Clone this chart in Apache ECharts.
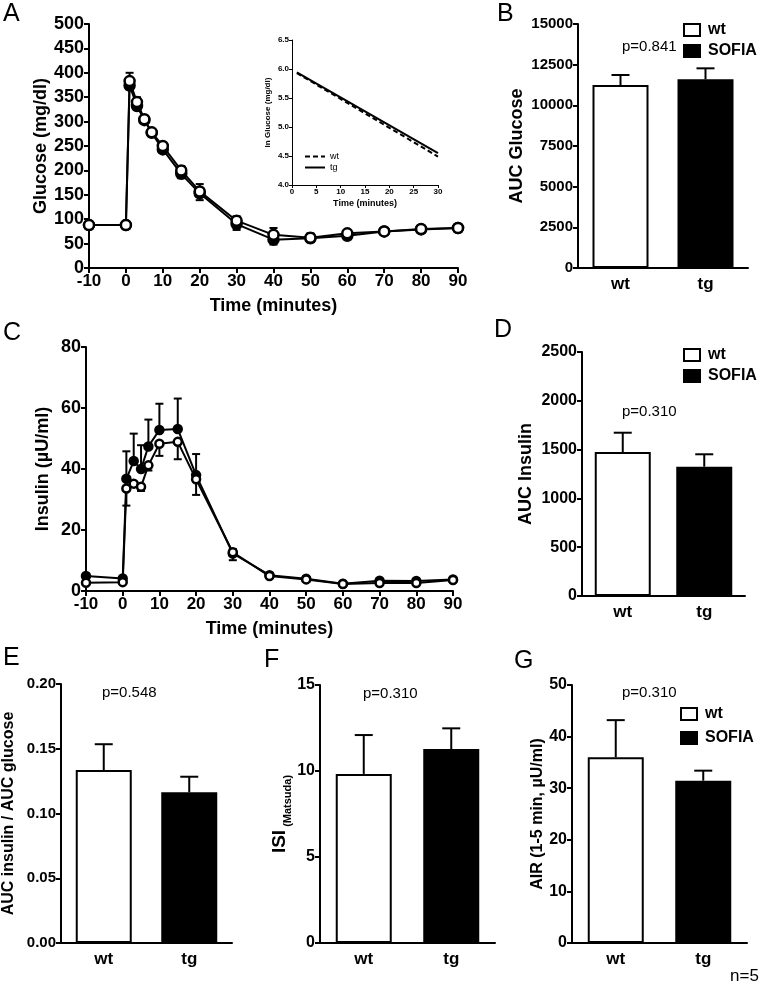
<!DOCTYPE html>
<html>
<head>
<meta charset="utf-8">
<script src="https://cdn.jsdelivr.net/npm/echarts@6.0.0/dist/echarts.min.js"></script>
</head>
<body style="margin:0;background:#fff">
<div id="container" style="width:762px;height:989px;"></div>
<script>
// time course (minutes)
var timePoints = [-10, 0, 1, 3, 5, 7, 10, 15, 20, 30, 40, 50, 60, 70, 80, 90];
var glucoseWt = [88, 88, 383, 340, 305, 278, 250, 200, 157, 97, 68, 62, 71, 75, 80, 82];
var glucoseWtErr = [2, 2, 17, 10, 4, 4, 5, 9, 15, 9, 14, 9, 3, 3, 3, 2];
var glucoseTg = [88, 88, 374, 332, 303, 277, 243, 193, 153, 90, 58, 61, 66, 75, 79, 82];
var glucoseTgErr = [2, 2, 8, 8, 4, 4, 7, 9, 14, 12, 10, 8, 3, 3, 3, 2];
var insulinWt = [2.7, 2.9, 33.6, 35.2, 34.2, 41.2, 48.3, 48.9, 36.6, 12.7, 4.9, 3.8, 2.3, 2.6, 2.6, 3.6];
var insulinWtErr = [0.5, 0.5, 5.6, 1.0, 1.4, 1.7, 4.0, 5.7, 5.1, 2.6, 0.5, 0.4, 0.3, 0.3, 0.3, 0.3];
var insulinTg = [4.9, 4.1, 36.8, 42.6, 40.0, 47.4, 52.8, 53.1, 38.0, 12.3, 5.2, 4.0, 2.4, 3.4, 3.3, 3.8];
var insulinTgErr = [0.7, 0.4, 9.0, 9.0, 7.8, 8.8, 8.6, 10.0, 6.9, 1.5, 0.5, 0.3, 0.2, 0.3, 0.3, 0.3];

// inset: ln glucose fit
var lnTime = [1, 30];
var lnWt = [5.93, 4.49];
var lnTg = [5.94, 4.55];

// bar panels
var groups = ['wt', 'tg'];
var aucGlucose = [11250, 11600], aucGlucoseErr = [615, 675];
var aucInsulin = [1475, 1325], aucInsulinErr = [198, 127];
var aucRatio = [0.1336, 0.1164], aucRatioErr = [0.0199, 0.012];
var isiMatsuda = [9.83, 11.28], isiMatsudaErr = [2.26, 1.2];
var airInsulin = [35.99, 31.45], airInsulinErr = [7.2, 1.95];

var font = 'Liberation Sans, Arial, sans-serif';
var dom = document.getElementById('container');
var myChart = echarts.init(dom);

function merge(a, b) {
  var o = {};
  for (var k in a) o[k] = a[k];
  for (var k2 in b) o[k2] = b[k2];
  return o;
}

function axisBase(gi, labelSize) {
  return {
    gridIndex: gi,
    axisLine: { show: true, onZero: false, lineStyle: { color: '#000', width: 2 } },
    axisTick: { show: true, inside: false, length: 5, lineStyle: { color: '#000', width: 2 } },
    splitLine: { show: false },
    axisLabel: { color: '#000', fontWeight: 'bold', fontFamily: font, fontSize: labelSize || 16, margin: 5,
      formatter: function (v) { return String(v); } },
    nameTextStyle: { color: '#000', fontWeight: 'bold', fontFamily: font, fontSize: 18 }
  };
}

function valueY(gi, min, max, interval, name, gap, labelSize, decimals, nameSize) {
  var ax = merge(axisBase(gi, labelSize), {
    type: 'value', min: min, max: max, interval: interval,
    name: name, nameLocation: 'middle', nameRotate: 90, nameGap: gap
  });
  if (decimals) ax.axisLabel.formatter = function (v) { return v.toFixed(decimals); };
  if (nameSize) ax.nameTextStyle.fontSize = nameSize;
  return ax;
}

function catX(gi) {
  var ax = merge(axisBase(gi, 17), { type: 'category', data: groups, boundaryGap: true });
  ax.axisTick = { show: false };
  ax.axisLabel.margin = 8;
  return ax;
}

function errRender(capHalf) {
  return function (params, api) {
    var x = api.value(0), y = api.value(1), e = api.value(2), d = api.value(3);
    var p0 = api.coord([x, y]);
    var p1 = api.coord([x, y + d * e]);
    var st = { stroke: '#000', lineWidth: 2 };
    return {
      type: 'group',
      children: [
        { type: 'line', shape: { x1: p0[0], y1: p0[1], x2: p1[0], y2: p1[1] }, style: st },
        { type: 'line', shape: { x1: p1[0] - capHalf, y1: p1[1], x2: p1[0] + capHalf, y2: p1[1] }, style: st }
      ]
    };
  };
}

function errSeries(gi, xs, ys, errs, dir, capHalf) {
  var data = [];
  for (var i = 0; i < ys.length; i++) data.push([xs[i], ys[i], errs[i], dir]);
  return {
    type: 'custom', xAxisIndex: gi, yAxisIndex: gi, z: 1,
    renderItem: errRender(capHalf), encode: { x: 0, y: 1 }, data: data, silent: true
  };
}

function pairs(xs, ys) {
  var out = [];
  for (var i = 0; i < xs.length; i++) out.push([xs[i], ys[i]]);
  return out;
}

function lineSeries(gi, name, xs, ys, open, size) {
  return {
    type: 'line', name: name, xAxisIndex: gi, yAxisIndex: gi, z: open ? 4 : 3,
    data: pairs(xs, ys), symbol: 'circle', symbolSize: size,
    lineStyle: { color: '#000', width: 2 },
    itemStyle: { color: open ? '#fff' : '#000', borderColor: '#000', borderWidth: 2.5 }
  };
}

function barSeries(gi, vals, errs) {
  return [
    { type: 'bar', name: 'wt', xAxisIndex: gi, yAxisIndex: gi, barWidth: 56, barGap: '-100%',
      data: [vals[0], '-'], itemStyle: { color: '#fff', borderColor: '#000', borderWidth: 2 }, z: 2 },
    { type: 'bar', name: 'SOFIA', xAxisIndex: gi, yAxisIndex: gi, barWidth: 56, barGap: '-100%',
      data: ['-', vals[1]], itemStyle: { color: '#000', borderColor: '#000', borderWidth: 2 }, z: 2 },
    merge(errSeries(gi, [0, 1], vals, errs, 1, 9), { z: 3 })
  ];
}

function barLegend(left, top, gap) {
  return {
    left: left, top: top, orient: 'vertical', padding: 0, itemGap: gap,
    itemWidth: 16, itemHeight: 12, icon: 'rect', selectedMode: false,
    data: ['wt', 'SOFIA'],
    textStyle: { color: '#000', fontWeight: 'bold', fontFamily: font, fontSize: 16, padding: [0, 0, 0, 3] }
  };
}

function letter(t, left, top) {
  return { text: t, left: left, top: top, padding: 0,
    textStyle: { fontFamily: font, fontWeight: 'normal', fontSize: 25, color: '#000' } };
}

function ptext(t, left, top, size) {
  return { type: 'text', left: left, top: top,
    style: { text: t, font: (size || 15) + 'px ' + font, fill: '#000' } };
}

var timeX = function (gi) {
  return merge(axisBase(gi, 17), {
    type: 'value', min: -10, max: 90, interval: 10,
    name: 'Time (minutes)', nameLocation: 'middle', nameGap: 29
  });
};

var insetX = merge(axisBase(1, 8), { type: 'value', min: 0, max: 30, interval: 5,
  name: 'Time (minutes)', nameLocation: 'middle', nameGap: 14 });
insetX.axisLabel.margin = 3;
insetX.axisTick.length = 3;
insetX.axisTick.lineStyle.width = 1;
insetX.axisLine.lineStyle.width = 1;
insetX.nameTextStyle.fontSize = 9;
var insetY = valueY(1, 4, 6.5, 0.5, 'ln Glucose (mg/dl)', 20, 8, 1, 8);
insetY.axisLabel.margin = 3;
insetY.axisTick.length = 3;
insetY.axisTick.lineStyle.width = 1;
insetY.axisLine.lineStyle.width = 1;

var isiY = valueY(6, 0, 15, 5, '{a|ISI}{b|(Matsuda)}', 26, 16);
isiY.nameTextStyle.rich = {
  a: { fontFamily: font, fontWeight: 'bold', fontSize: 19, color: '#000', lineHeight: 22, verticalAlign: 'bottom' },
  b: { fontFamily: font, fontWeight: 'bold', fontSize: 11, color: '#000', lineHeight: 22, verticalAlign: 'bottom', padding: [0, 0, -4, 3] }
};

var series = [];
series.push(errSeries(0, timePoints, glucoseTg, glucoseTgErr, -1, 4));
series.push(errSeries(0, timePoints, glucoseWt, glucoseWtErr, 1, 4));
series.push(lineSeries(0, 'glucose tg', timePoints, glucoseTg, false, 10));
series.push(lineSeries(0, 'glucose wt', timePoints, glucoseWt, true, 10));
series.push({ type: 'line', name: 'ln wt', xAxisIndex: 1, yAxisIndex: 1, data: pairs(lnTime, lnWt),
  symbol: 'none', lineStyle: { color: '#000', width: 2, type: [5, 3] } });
series.push({ type: 'line', name: 'ln tg', xAxisIndex: 1, yAxisIndex: 1, data: pairs(lnTime, lnTg),
  symbol: 'none', lineStyle: { color: '#000', width: 2 } });
series = series.concat(barSeries(2, aucGlucose, aucGlucoseErr));
series.push(errSeries(3, timePoints, insulinTg, insulinTgErr, 1, 4));
series.push(errSeries(3, timePoints, insulinWt, insulinWtErr, -1, 4));
series.push(lineSeries(3, 'insulin wt', timePoints, insulinWt, true, 8));
series.push(lineSeries(3, 'insulin tg', timePoints, insulinTg, false, 8));
series = series.concat(barSeries(4, aucInsulin, aucInsulinErr));
series = series.concat(barSeries(5, aucRatio, aucRatioErr));
series = series.concat(barSeries(6, isiMatsuda, isiMatsudaErr));
series = series.concat(barSeries(7, airInsulin, airInsulinErr));

var option = {
  animation: false,
  backgroundColor: '#fff',
  title: [
    letter('A', 3, 2), letter('B', 497, 2), letter('C', 3, 321), letter('D', 494, 318),
    letter('E', 3, 646), letter('F', 264, 648), letter('G', 514, 649)
  ],
  grid: [
    { left: 89, top: 24, width: 369, height: 244 },
    { left: 292, top: 40, width: 146, height: 145 },
    { left: 578, top: 24, width: 170, height: 244 },
    { left: 86, top: 347, width: 367, height: 244 },
    { left: 582, top: 352, width: 163, height: 244 },
    { left: 60, top: 684, width: 172, height: 259 },
    { left: 320, top: 685, width: 175, height: 258 },
    { left: 572, top: 685, width: 175, height: 258 }
  ],
  xAxis: [timeX(0), insetX, catX(2), timeX(3), catX(4), catX(5), catX(6), catX(7)],
  yAxis: [
    valueY(0, 0, 500, 50, 'Glucose (mg/dl)', 39, 18),
    insetY,
    valueY(2, 0, 15000, 2500, 'AUC Glucose', 52, 15),
    valueY(3, 0, 80, 20, 'Insulin (\u00b5U/ml)', 34, 18),
    valueY(4, 0, 2500, 500, 'AUC Insulin', 47, 16),
    valueY(5, 0, 0.2, 0.05, 'AUC insulin / AUC glucose', 44, 15, 2, 16),
    isiY,
    valueY(7, 0, 50, 10, 'AIR (1-5 min, \u00b5U/ml)', 25, 16, 0, 16)
  ],
  legend: [
    barLegend(683, 22, 5),
    barLegend(683, 347, 5),
    barLegend(680, 706, 8),
    { left: 304, top: 152, orient: 'vertical', padding: 0, itemGap: 2, itemWidth: 20, itemHeight: 10,
      selectedMode: false, data: ['ln wt', 'ln tg'],
      itemStyle: { color: 'rgba(0,0,0,0)', borderWidth: 0 },
      formatter: function (n) { return n.replace('ln ', ''); },
      textStyle: { color: '#000', fontFamily: font, fontSize: 9 } }
  ],
  graphic: [
    ptext('p=0.841', 622, 39),
    ptext('p=0.310', 622, 404),
    ptext('p=0.548', 102, 685),
    ptext('p=0.310', 363, 686),
    ptext('p=0.310', 622, 685),
    ptext('n=5', 730, 968, 17)
  ],
  series: series
};

myChart.setOption(option, true);
</script>
</body>
</html>
